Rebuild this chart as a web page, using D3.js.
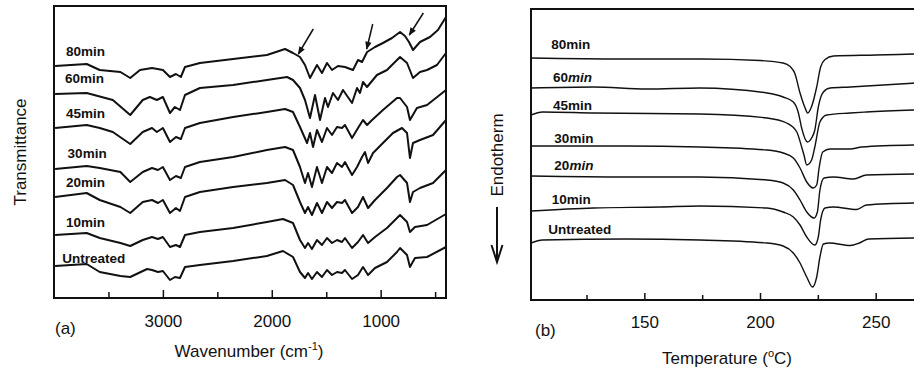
<!DOCTYPE html>
<html>
<head>
  <meta charset="utf-8">
  <title>FTIR and DSC</title>
  <script src="https://d3js.org/d3.v7.min.js"></script>
  <style>
    body {
      margin: 0;
      background: #fff;
    }

    svg {
      display: block;
      font-family: "Liberation Sans", Arial, sans-serif;
    }

    .curve {
      fill: none;
      stroke: #111;
      stroke-linejoin: round;
    }

    .frame {
      fill: none;
      stroke: #111;
      stroke-width: 2;
    }

    .series-label {
      font-size: 13.5px;
      font-weight: bold;
      fill: #111;
    }

    .axis-title {
      font-size: 17px;
      fill: #111;
    }
  </style>
</head>
<body>
  <svg id="chart" width="914" height="371"></svg>

  <script>
    // sample names, top curve first
    const samples = ["80min", "60min", "45min", "30min", "20min", "10min", "Untreated"];

    // (a) FTIR spectra: [wavenumber (cm-1), transmittance (a.u., offset)]
    const ftir80 = [[3990, 232], [3700, 234], [3580, 228], [3390, 226], [3300, 220], [3210, 228], [3100, 230], [3000, 228], [2935, 221], [2880, 224], [2835, 221], [2797, 231], [2660, 235], [2355, 239], [2045, 243], [1878, 249], [1805, 245], [1741, 241], [1695, 233], [1649, 220], [1585, 233], [1539, 225], [1493, 235], [1447, 228], [1392, 232], [1328, 231], [1254, 228], [1208, 238], [1171, 236], [1125, 246], [1052, 251], [979, 255], [896, 260], [822, 266], [777, 262], [740, 256], [703, 248], [639, 256], [547, 261], [474, 268], [400, 281]];
    const ftir60 = [[3990, 204], [3700, 205], [3460, 198], [3300, 183], [3185, 198], [3120, 201], [3055, 198], [3000, 201], [2935, 185], [2890, 191], [2843, 188], [2797, 203], [2660, 210], [2355, 213], [2045, 218], [1860, 221], [1805, 218], [1741, 210], [1695, 198], [1649, 180], [1603, 203], [1557, 178], [1511, 200], [1484, 191], [1438, 205], [1392, 198], [1346, 208], [1263, 195], [1217, 210], [1190, 205], [1162, 216], [1125, 211], [1034, 223], [942, 228], [850, 238], [822, 241], [758, 235], [703, 220], [639, 226], [574, 228], [483, 233], [400, 245]];
    const ftir45 = [[3990, 170], [3700, 173], [3580, 170], [3460, 166], [3300, 154], [3185, 166], [3100, 170], [3055, 166], [3000, 170], [2935, 156], [2880, 161], [2835, 159], [2797, 170], [2660, 175], [2355, 181], [2045, 186], [1878, 189], [1805, 186], [1741, 171], [1676, 155], [1649, 165], [1621, 151], [1585, 168], [1539, 156], [1493, 170], [1447, 163], [1401, 171], [1355, 170], [1328, 173], [1263, 160], [1208, 170], [1162, 178], [1125, 173], [1079, 178], [979, 188], [850, 200], [822, 200], [758, 191], [731, 178], [667, 190], [574, 193], [400, 208]];
    const ftir30 = [[3990, 129], [3700, 132], [3580, 130], [3390, 126], [3300, 116], [3185, 126], [3100, 130], [3045, 128], [3000, 131], [2935, 118], [2880, 122], [2835, 120], [2797, 131], [2660, 136], [2355, 141], [2045, 148], [1878, 151], [1805, 148], [1741, 131], [1695, 115], [1667, 125], [1631, 111], [1585, 131], [1539, 115], [1493, 131], [1447, 125], [1401, 135], [1355, 131], [1328, 136], [1263, 123], [1217, 131], [1171, 141], [1144, 146], [1116, 135], [1070, 145], [979, 155], [887, 165], [804, 170], [758, 165], [731, 140], [703, 155], [639, 158], [519, 163], [400, 178]];
    const ftir20 = [[3990, 101], [3700, 105], [3580, 98], [3390, 91], [3300, 85], [3185, 96], [3100, 98], [3045, 95], [3000, 98], [2935, 85], [2880, 90], [2843, 87], [2797, 101], [2660, 106], [2355, 111], [2045, 115], [1878, 118], [1805, 113], [1741, 96], [1695, 85], [1667, 91], [1631, 83], [1585, 95], [1539, 85], [1493, 96], [1447, 90], [1401, 96], [1355, 95], [1328, 98], [1263, 85], [1208, 91], [1162, 101], [1116, 90], [1052, 98], [942, 110], [850, 121], [822, 123], [758, 115], [731, 96], [703, 106], [639, 110], [519, 115], [400, 128]];
    const ftir10 = [[3990, 63], [3700, 65], [3580, 60], [3390, 55], [3300, 52], [3185, 58], [3100, 61], [3045, 59], [3000, 61], [2935, 51], [2880, 53], [2843, 51], [2797, 63], [2660, 66], [2355, 70], [2045, 76], [1897, 79], [1805, 75], [1741, 58], [1695, 50], [1667, 55], [1631, 49], [1585, 58], [1539, 53], [1493, 60], [1447, 55], [1401, 58], [1355, 56], [1328, 60], [1263, 50], [1208, 56], [1162, 63], [1116, 55], [1052, 61], [942, 70], [850, 80], [822, 83], [758, 76], [731, 66], [685, 71], [574, 73], [400, 84]];
    const ftirUntreated = [[3990, 32], [3700, 34], [3580, 26], [3390, 22], [3300, 21], [3145, 29], [3100, 28], [3045, 26], [3000, 27], [2935, 18], [2889, 21], [2843, 20], [2797, 31], [2660, 33], [2355, 37], [2045, 42], [1897, 47], [1805, 41], [1741, 26], [1695, 20], [1667, 25], [1631, 19], [1585, 26], [1539, 21], [1493, 28], [1447, 23], [1401, 26], [1355, 25], [1328, 28], [1263, 19], [1208, 23], [1162, 31], [1116, 23], [1052, 30], [942, 36], [850, 46], [822, 50], [758, 43], [731, 31], [685, 40], [574, 41], [400, 51]];
    const ftirSeries = [ftir80, ftir60, ftir45, ftir30, ftir20, ftir10, ftirUntreated];

    const ftirMajorTicks = [3000, 2000, 1000];
    const ftirMinorTicks = [3500, 2500, 1500, 500];

    // where each name sits, [wavenumber, a.u.]
    const ftirLabelAt = [[3890, 247], [3900, 220], [3890, 185], [3875, 145], [3890, 116], [3890, 76], [3925, 40]];
    // annotation arrows: [tail wn, tail a.u., head wn, head a.u.]
    const ftirArrows = [[1619, 269, 1756, 244], [1073, 274, 1128, 249], [608, 285, 737, 263]];

    // (b) DSC curves: [temperature (°C), heat flow (a.u., offset)]
    const dsc80 = [[101, 242], [140, 241], [175, 241], [200, 239.5], [210, 237], [213, 233.5], [215, 227], [217.3, 207], [219.5, 192], [220.6, 187], [222.3, 193.5], [224.5, 213], [226.2, 233], [228.1, 240.5], [231.7, 244], [250, 245], [267, 246]];
    const dsc60 = [[101, 212], [128, 213], [151, 211], [174, 212], [203, 207], [210, 203], [214.4, 198], [216.6, 187], [218, 172], [220.5, 158], [222.3, 162], [223.7, 170], [225.2, 193], [227.4, 208], [230.3, 212], [239, 213], [267, 217]];
    const dsc45 = [[101, 185], [106, 188], [128, 187], [174, 186], [203, 182], [211.5, 177], [215.9, 168], [218, 153], [219, 145], [220.2, 135], [222.3, 140], [223.7, 153], [225.9, 178], [228.8, 185], [239, 187], [246, 188], [267, 190]];
    const dsc30 = [[101, 154], [142, 154], [174, 153], [203, 150], [210, 147], [214.4, 142], [217.3, 132], [220.2, 118], [223, 112], [224.5, 115], [225.6, 133], [227.1, 148], [230.3, 151], [239, 151], [244, 153], [267, 155]];
    const dsc20 = [[101, 124], [142, 123], [174, 123], [203, 120], [210, 117], [214.4, 110], [217.3, 100], [220.2, 88], [223.4, 82], [224.8, 88], [225.9, 110], [227.7, 122], [231.7, 123], [240.4, 121], [246, 125], [267, 126]];
    const dsc10 = [[101, 89], [128, 92], [157, 93], [174, 94], [203, 92], [210, 88], [214.4, 83], [217.3, 75], [220.2, 63], [223.7, 55], [225.2, 63], [226.2, 80], [228.1, 92], [231.7, 93], [241.8, 90.5], [246, 95], [267, 97]];
    const dscUntreated = [[101, 57], [106, 60], [142, 61], [174, 60], [203, 57], [210, 54], [214.4, 47], [217.3, 37], [220.2, 23], [222.7, 13], [224.5, 23], [225.9, 43], [227.4, 56], [230, 57], [239, 54.5], [243, 57], [247, 61], [267, 62]];
    const dscSeries = [dsc80, dsc60, dsc45, dsc30, dsc20, dsc10, dscUntreated];

    const dscMajorTicks = [150, 200, 250];
    const dscMinorTicks = [125, 175, 225];
    const dscLabelAt = [[109.7, 256], [110.5, 223], [110.5, 195], [111.1, 162], [111.1, 135], [110, 101], [108.5, 71]];
    const dscItalicMin = ["60min", "20min"];

    const svg = d3.select("#chart");

    // arrow head for the FTIR annotations
    svg.append("defs")
      .append("marker")
      .attr("id", "head")
      .attr("viewBox", "0 0 10 10")
      .attr("refX", 9)
      .attr("refY", 5)
      .attr("markerUnits", "userSpaceOnUse")
      .attr("markerWidth", 10)
      .attr("markerHeight", 8)
      .attr("orient", "auto")
      .append("path")
      .attr("d", "M0,1 L10,5 L0,9 Z")
      .attr("fill", "#111");

    function bottomTicks(g, x, y0, major, minor, majorLen, minorLen, pad) {
      const ax = g.append("g").attr("transform", `translate(0,${y0})`);
      ax.call(d3.axisBottom(x).tickValues(major).tickSize(-majorLen).tickPadding(pad).tickFormat(d3.format("d")))
        .call((s) => s.select(".domain").remove());
      ax.selectAll("text")
        .attr("font-size", 17)
        .attr("font-family", "Liberation Sans, Arial, sans-serif")
        .attr("fill", "#111");
      ax.selectAll("line").attr("stroke", "#111").attr("stroke-width", 1.5);

      const mi = g.append("g").attr("transform", `translate(0,${y0})`);
      mi.call(d3.axisBottom(x).tickValues(minor).tickSize(-minorLen).tickFormat(""))
        .call((s) => s.select(".domain").remove());
      mi.selectAll("line").attr("stroke", "#111").attr("stroke-width", 1.5);
    }

    // ---------- panel (a) ----------
    const xa = d3.scaleLinear().domain([4000, 400]).range([54, 446]);
    const ya = d3.scaleLinear().domain([0, 292]).range([298, 6]);
    const ga = svg.append("g");

    const lineA = d3.line()
      .x((d) => xa(d[0]))
      .y((d) => ya(d[1]));

    ga.selectAll(".ftir")
      .data(ftirSeries)
      .enter()
      .append("path")
      .attr("class", "curve ftir")
      .attr("stroke-width", 2)
      .attr("d", lineA);

    ga.append("rect")
      .attr("class", "frame")
      .attr("x", xa.range()[0])
      .attr("y", ya.range()[1])
      .attr("width", xa.range()[1] - xa.range()[0])
      .attr("height", ya.range()[0] - ya.range()[1]);

    bottomTicks(ga, xa, ya(0), ftirMajorTicks, ftirMinorTicks, 8, 6, 17);

    ga.selectAll(".ftir-label")
      .data(samples)
      .enter()
      .append("text")
      .attr("class", "series-label")
      .attr("x", (d, i) => xa(ftirLabelAt[i][0]))
      .attr("y", (d, i) => ya(ftirLabelAt[i][1]))
      .attr("dy", "0.36em")
      .text((d) => d);

    ga.selectAll(".ftir-arrow")
      .data(ftirArrows)
      .enter()
      .append("line")
      .attr("x1", (d) => xa(d[0]))
      .attr("y1", (d) => ya(d[1]))
      .attr("x2", (d) => xa(d[2]))
      .attr("y2", (d) => ya(d[3]))
      .attr("stroke", "#111")
      .attr("stroke-width", 1.5)
      .attr("marker-end", "url(#head)");

    ga.append("text")
      .attr("class", "axis-title")
      .attr("transform", `translate(26,${(ya.range()[0] + ya.range()[1]) / 2}) rotate(-90)`)
      .attr("text-anchor", "middle")
      .text("Transmittance");

    const wn = ga.append("text")
      .attr("class", "axis-title")
      .attr("x", 249)
      .attr("y", 357)
      .attr("text-anchor", "middle");
    wn.append("tspan").text("Wavenumber (cm");
    wn.append("tspan").attr("dy", -7).attr("font-size", 11).text("-1");
    wn.append("tspan").attr("dy", 7).text(")");

    ga.append("text")
      .attr("class", "axis-title")
      .attr("x", 55)
      .attr("y", 334)
      .text("(a)");

    // ---------- panel (b) ----------
    const xb = d3.scaleLinear().domain([101, 267]).range([531, 915]);
    const yb = d3.scaleLinear().domain([0, 291]).range([300, 9]);
    const gb = svg.append("g");

    const lineB = d3.line()
      .x((d) => xb(d[0]))
      .y((d) => yb(d[1]))
      .curve(d3.curveMonotoneX);

    gb.selectAll(".dsc")
      .data(dscSeries)
      .enter()
      .append("path")
      .attr("class", "curve dsc")
      .attr("stroke-width", 1.4)
      .attr("d", lineB);

    gb.append("rect")
      .attr("class", "frame")
      .attr("x", xb.range()[0])
      .attr("y", yb.range()[1])
      .attr("width", 460)
      .attr("height", yb.range()[0] - yb.range()[1]);

    bottomTicks(gb, xb, yb(0), dscMajorTicks, dscMinorTicks, 7, 5, 16);

    const dl = gb.selectAll(".dsc-label")
      .data(samples)
      .enter()
      .append("text")
      .attr("class", "series-label")
      .attr("x", (d, i) => xb(dscLabelAt[i][0]))
      .attr("y", (d, i) => yb(dscLabelAt[i][1]))
      .attr("dy", "0.36em");
    dl.each(function (d) {
      const t = d3.select(this);
      if (dscItalicMin.includes(d)) {
        t.append("tspan").text(d.replace("min", ""));
        t.append("tspan").attr("font-style", "italic").text("min");
      } else {
        t.text(d);
      }
    });

    gb.append("text")
      .attr("class", "axis-title")
      .attr("transform", "translate(503,155) rotate(-90)")
      .attr("text-anchor", "middle")
      .text("Endotherm");

    gb.append("path")
      .attr("d", "M497,207 L497,262 M491.5,245 L497,262 L502.5,245")
      .attr("fill", "none")
      .attr("stroke", "#111")
      .attr("stroke-width", 2);

    const tt = gb.append("text")
      .attr("class", "axis-title")
      .attr("x", 727)
      .attr("y", 364)
      .attr("text-anchor", "middle");
    tt.append("tspan").text("Temperature (");
    tt.append("tspan").attr("dy", -7).attr("font-size", 11).text("o");
    tt.append("tspan").attr("dy", 7).text("C)");

    gb.append("text")
      .attr("class", "axis-title")
      .attr("x", 535)
      .attr("y", 336)
      .text("(b)");
  </script>
</body>
</html>
